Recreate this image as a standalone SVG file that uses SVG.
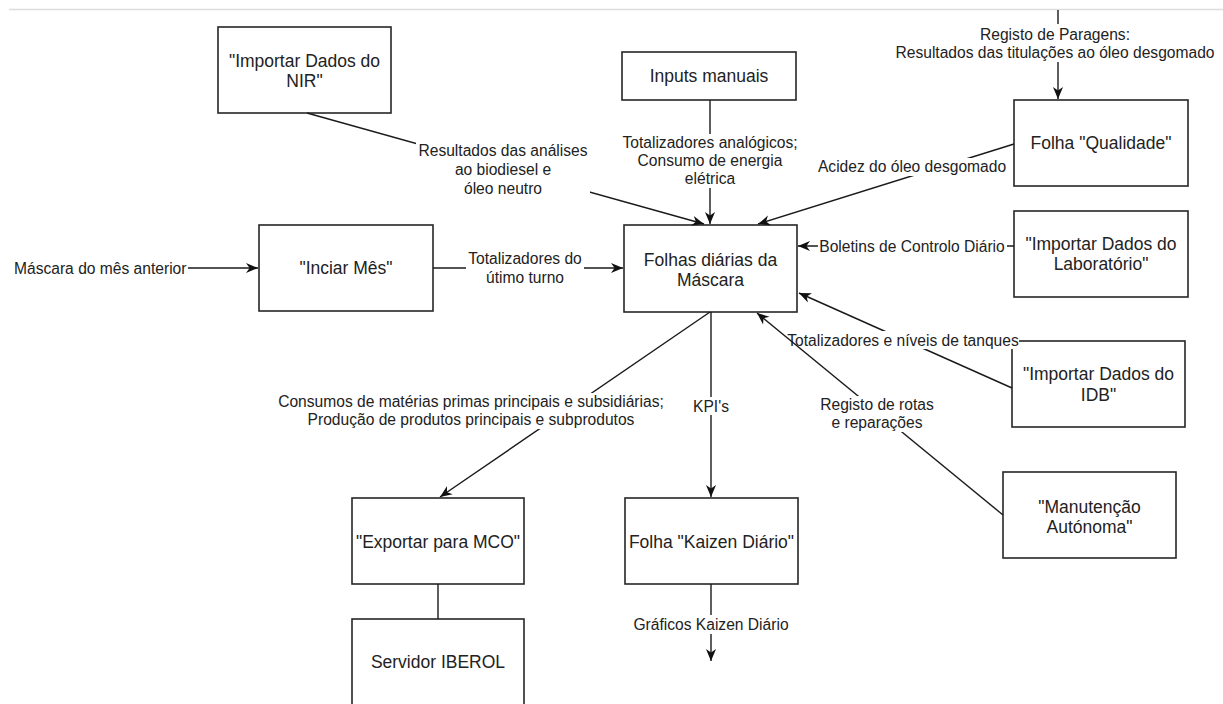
<svg xmlns="http://www.w3.org/2000/svg" width="1223" height="704" viewBox="0 0 1223 704">
  <defs>
    <marker id="arrow" viewBox="0 0 10 10" refX="10" refY="5" markerWidth="12" markerHeight="12" markerUnits="userSpaceOnUse" orient="auto">
      <path d="M0,0.8 L10,5 L0,9.2 L3,5 Z" fill="#111"/>
    </marker>
    <style>
      .box { fill: #ffffff; stroke: #262626; stroke-width: 1.6; }
      .nt { font-family: "Liberation Sans", Arial, sans-serif; font-size: 17.5px; fill: #222; text-anchor: middle; }
      .edge { fill: none; stroke: #1a1a1a; stroke-width: 1.4; }
      .arr { marker-end: url(#arrow); }
      .lbg { fill: #ffffff; }
      .lt { font-family: "Liberation Sans", Arial, sans-serif; font-size: 15.6px; fill: #222; text-anchor: middle; }
    </style>
  </defs>

  <rect x="0" y="0" width="1223" height="704" fill="#ffffff"/>
  <!-- page edge -->
  <line x1="9" y1="9.5" x2="1223" y2="9.5" stroke="#dcdcdc" stroke-width="1.5"/>

  <!-- nodes -->
  <g id="node-nir">
    <rect class="box" x="218" y="27" width="173" height="86"/>
    <text class="nt" x="304.5" y="67">"Importar Dados do</text>
    <text class="nt" x="304.5" y="87">NIR"</text>
  </g>
  <g id="node-inputs">
    <rect class="box" x="622" y="52" width="174" height="48"/>
    <text class="nt" x="709" y="82">Inputs manuais</text>
  </g>
  <g id="node-qualidade">
    <rect class="box" x="1014" y="100" width="174" height="86"/>
    <text class="nt" x="1101" y="149">Folha "Qualidade"</text>
  </g>
  <g id="node-iniciar">
    <rect class="box" x="259" y="225" width="174" height="86"/>
    <text class="nt" x="346" y="274">"Inciar Mês"</text>
  </g>
  <g id="node-folhas">
    <rect class="box" x="624" y="225" width="173" height="87"/>
    <text class="nt" x="710.5" y="266">Folhas diárias da</text>
    <text class="nt" x="710.5" y="286">Máscara</text>
  </g>
  <g id="node-laboratorio">
    <rect class="box" x="1014" y="211" width="174" height="86"/>
    <text class="nt" x="1101" y="250">"Importar Dados do</text>
    <text class="nt" x="1101" y="270">Laboratório"</text>
  </g>
  <g id="node-idb">
    <rect class="box" x="1012" y="341" width="173" height="86"/>
    <text class="nt" x="1098.5" y="380">"Importar Dados do</text>
    <text class="nt" x="1098.5" y="401">IDB"</text>
  </g>
  <g id="node-manutencao">
    <rect class="box" x="1003" y="472" width="173" height="86"/>
    <text class="nt" x="1089.5" y="513">"Manutenção</text>
    <text class="nt" x="1089.5" y="533">Autónoma"</text>
  </g>
  <g id="node-exportar">
    <rect class="box" x="352" y="498" width="172" height="86"/>
    <text class="nt" x="438" y="548">"Exportar para MCO"</text>
  </g>
  <g id="node-kaizen">
    <rect class="box" x="625" y="498" width="173" height="86"/>
    <text class="nt" x="711.5" y="548">Folha "Kaizen Diário"</text>
  </g>
  <g id="node-servidor">
    <rect class="box" x="352" y="619" width="172" height="100"/>
    <text class="nt" x="438" y="668">Servidor IBEROL</text>
  </g>

  <!-- connectors -->
  <g id="connectors">
    <!-- NIR to Folhas -->
    <line class="edge arr" x1="307" y1="113" x2="704" y2="224"/>
    <rect class="lbg" x="416" y="141" width="174" height="55"/>
    <text class="lt" x="503" y="156">Resultados das análises</text>
    <text class="lt" x="503" y="175">ao biodiesel e</text>
    <text class="lt" x="503" y="194">óleo neutro</text>

    <!-- Inputs manuais to Folhas -->
    <line class="edge arr" x1="710" y1="100" x2="710" y2="224"/>
    <rect class="lbg" x="620" y="134" width="180" height="54"/>
    <text class="lt" x="710" y="148">Totalizadores analógicos;</text>
    <text class="lt" x="710" y="166">Consumo de energia</text>
    <text class="lt" x="710" y="184">elétrica</text>

    <!-- Qualidade to Folhas -->
    <line class="edge arr" x1="1014" y1="144" x2="758" y2="224"/>
    <rect class="lbg" x="816" y="158" width="192" height="18"/>
    <text class="lt" x="912" y="172">Acidez do óleo desgomado</text>

    <!-- Registo de Paragens into Qualidade -->
    <line class="edge arr" x1="1058" y1="10" x2="1058" y2="99"/>
    <rect class="lbg" x="894" y="24" width="322" height="38"/>
    <text class="lt" x="1055" y="40">Registo de Paragens:</text>
    <text class="lt" x="1055" y="58">Resultados das titulações ao óleo desgomado</text>

    <!-- previous month into Iniciar Mês -->
    <line class="edge arr" x1="188" y1="268" x2="258" y2="268"/>
    <text class="lt" x="14" y="273.5" style="text-anchor:start">Máscara do mês anterior</text>

    <!-- Iniciar Mês to Folhas -->
    <line class="edge arr" x1="433" y1="268" x2="623" y2="268"/>
    <rect class="lbg" x="466" y="250" width="118" height="38"/>
    <text class="lt" x="525" y="264">Totalizadores do</text>
    <text class="lt" x="525" y="283">útimo turno</text>

    <!-- Laboratório to Folhas -->
    <line class="edge arr" x1="1014" y1="246" x2="798" y2="246"/>
    <rect class="lbg" x="818" y="237" width="189" height="18"/>
    <text class="lt" x="912" y="251.5">Boletins de Controlo Diário</text>

    <!-- IDB to Folhas -->
    <line class="edge arr" x1="1012" y1="388" x2="799" y2="293"/>
    <rect class="lbg" x="787" y="331" width="232" height="18"/>
    <text class="lt" x="903" y="345.5">Totalizadores e níveis de tanques</text>

    <!-- Manutenção to Folhas -->
    <line class="edge arr" x1="1003" y1="515" x2="757" y2="313"/>
    <rect class="lbg" x="820" y="396" width="114" height="36"/>
    <text class="lt" x="877" y="410">Registo de rotas</text>
    <text class="lt" x="877" y="428">e reparações</text>

    <!-- Folhas to Exportar -->
    <line class="edge arr" x1="710" y1="312" x2="440" y2="497"/>
    <rect class="lbg" x="276" y="393" width="390" height="36"/>
    <text class="lt" x="471" y="407">Consumos de matérias primas principais e subsidiárias;</text>
    <text class="lt" x="471" y="425">Produção de produtos principais e subprodutos</text>

    <!-- Folhas to Kaizen -->
    <line class="edge arr" x1="711" y1="312" x2="711" y2="497"/>
    <rect class="lbg" x="692" y="397" width="38" height="18"/>
    <text class="lt" x="711" y="411.5">KPI's</text>

    <!-- Kaizen output -->
    <line class="edge arr" x1="711" y1="584" x2="711" y2="661"/>
    <rect class="lbg" x="632" y="615" width="158" height="19"/>
    <text class="lt" x="711" y="629.5">Gráficos Kaizen Diário</text>

    <!-- Exportar to Servidor -->
    <line class="edge" x1="438" y1="584" x2="438" y2="619"/>
  </g>
</svg>
